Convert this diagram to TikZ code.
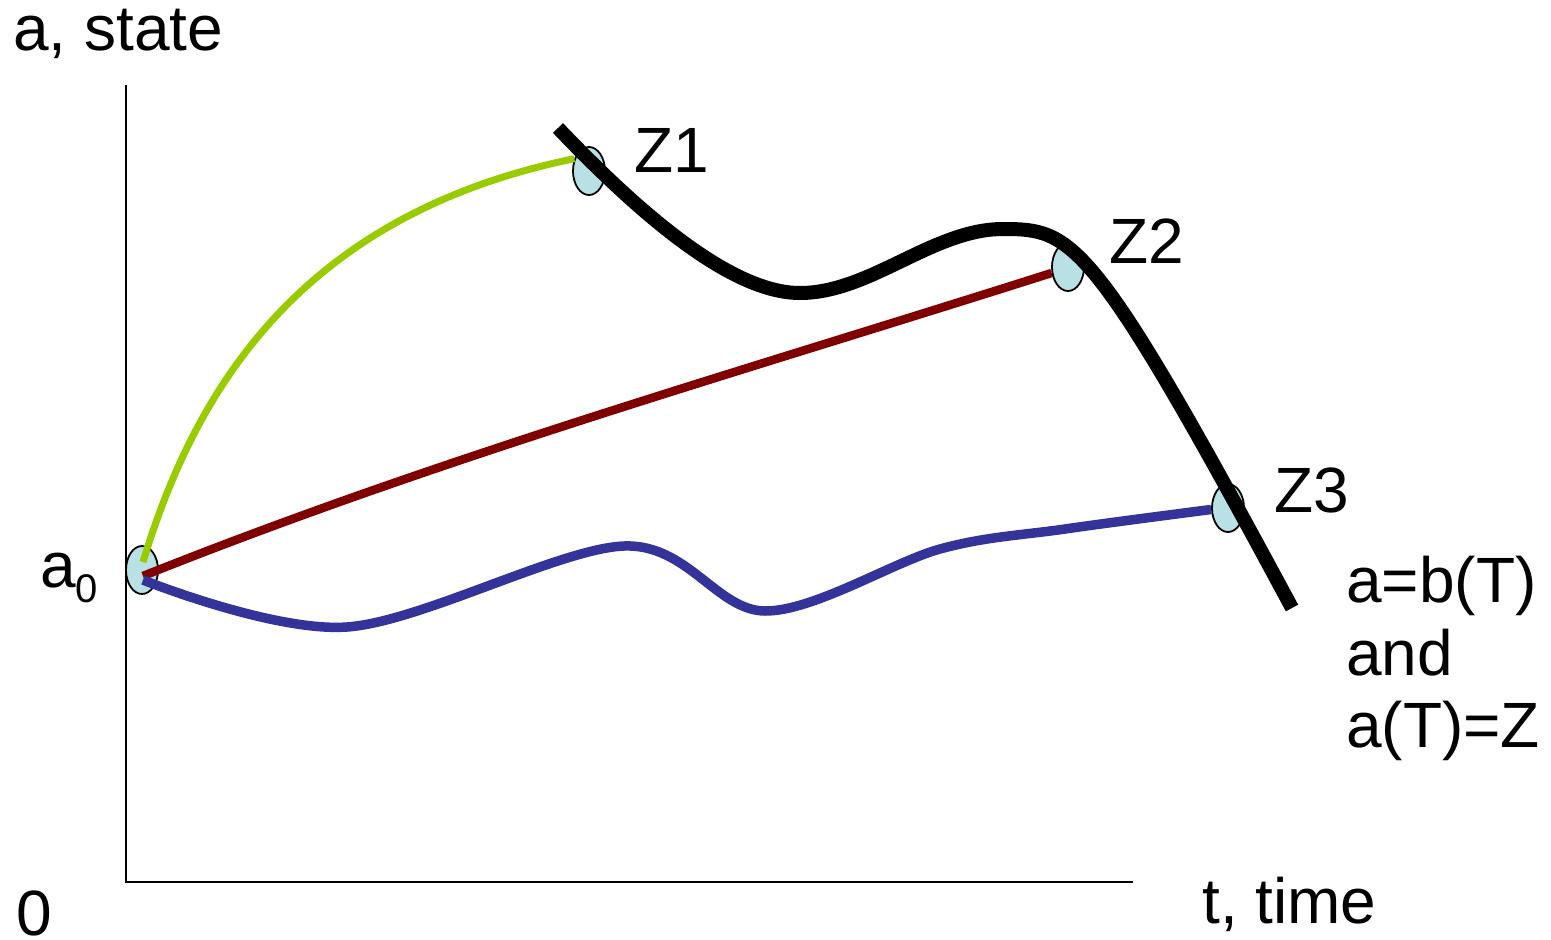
\documentclass[tikz,border=0pt]{standalone}
\usepackage{fontspec}
\setmainfont{Liberation Sans}
\usetikzlibrary{shapes.geometric}
\definecolor{ygreen}{RGB}{153,204,0}
\definecolor{dred}{RGB}{128,0,0}
\definecolor{dblue}{RGB}{51,51,153}
\definecolor{lblue}{RGB}{185,224,228}
\begin{document}
\begin{tikzpicture}[x=1pt,y=-1pt,
  lbl/.style={anchor=base west,inner sep=0pt,font=\fontsize{64}{72}\selectfont},
  endpt/.style={ellipse,draw=black,line width=1.8pt,fill=lblue,minimum width=32pt,minimum height=48pt,inner sep=0pt},
  axisline/.style={line width=2pt},
  greenpath/.style={ygreen,line width=7pt},
  redpath/.style={dred,line width=8.5pt},
  bluepath/.style={dblue,line width=9.5pt,line join=round},
  bound/.style={black,line width=14pt}]
\useasboundingbox (0,0) rectangle (1551,940);
% axes
\coordinate (ytop) at (126,85);
\coordinate (orig) at (126,882);
\coordinate (xend) at (1133,882);
\draw[axisline] (ytop) -- (orig) -- (xend);
% end points
\node[endpt] (e0) at (142,570) {};
\node[endpt] (ez1) at (589,171) {};
\node[endpt] (ez2) at (1068,267) {};
\node[endpt] (ez3) at (1228,508) {};
% trajectories
\coordinate (g0) at (143,562);
\coordinate (r0) at (143,576);
\coordinate (b0) at (143,580);
\draw[greenpath] (g0) .. controls (195,390) and (300,215) .. (ez1.140);
\draw[redpath] (r0) .. controls (446,455) and (750,369) .. (ez2.200);
\draw[bluepath] plot[smooth,tension=0.55] coordinates {(b0) (347,627) (624,546) (765,611) (940,549) (1065,529) (ez3.185)};
% boundary curve
\coordinate (k0) at (558,128);
\coordinate (kmin) at (800,293);
\coordinate (kmax) at (1003,229);
\coordinate (k1) at (1292,608);
\draw[bound] (k0) .. controls (658,233) and (740,293) .. (kmin)
  .. controls (870,293) and (933,229) .. (kmax)
  .. controls (1073,229) and (1092,236) .. (k1);
% labels
\node[lbl] (ylab) at (13,50) {a, state};
\node[lbl] (xlab) at (1202,923) {t, time};
\node[lbl] (zero) at (16,935) {0};
\node[lbl] (a0lab) at (40,587) {a\raisebox{-15pt}{\fontsize{40}{40}\selectfont 0}};
\node[lbl] (z1lab) at (634,172) {Z1};
\node[lbl] (z2lab) at (1109,263) {Z2};
\node[lbl] (z3lab) at (1274,512) {Z3};
\node[lbl] (c1) at (1346,602) {a=b(T)};
\node[lbl] (c2) at (1346,675) {and};
\node[lbl] (c3) at (1346,747) {a(T)=Z};
\end{tikzpicture}
\end{document}
